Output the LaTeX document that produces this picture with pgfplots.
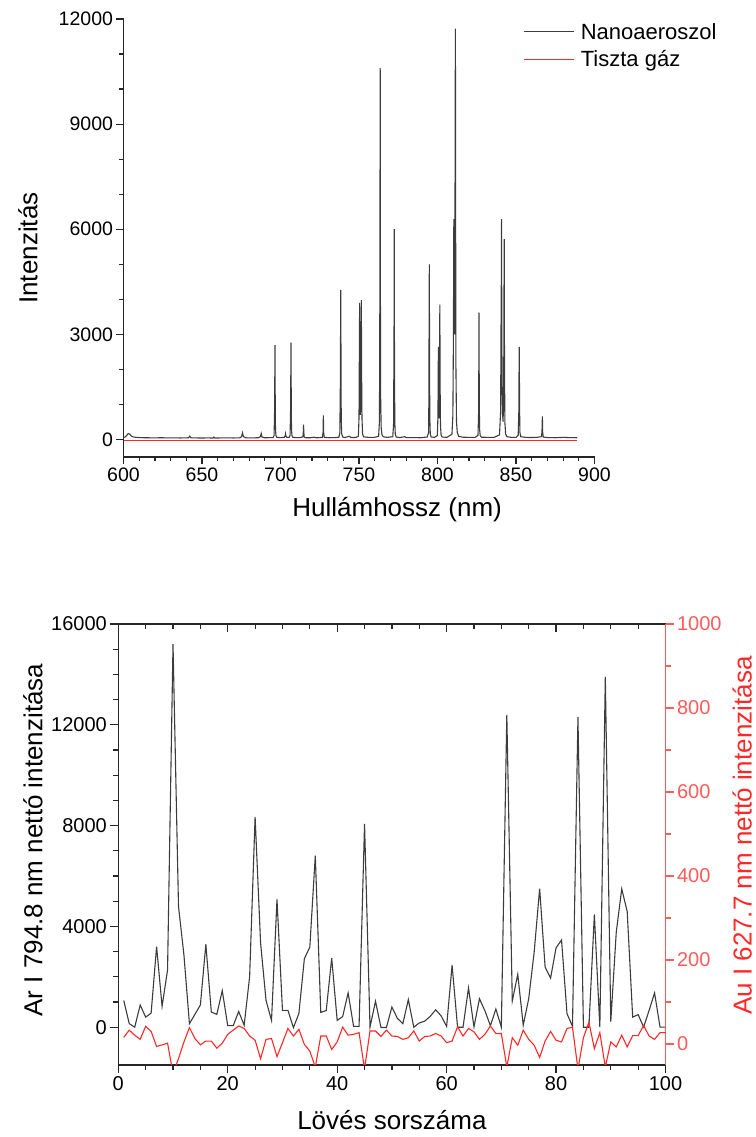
\documentclass[border=0pt]{standalone}
\usepackage{fontspec}
\setmainfont{Liberation Sans}
\usepackage{pgfplots}
\usepackage{pgfplotstable}
\pgfplotsset{compat=1.18}
\definecolor{spec}{RGB}{60,60,60}
\definecolor{redline}{RGB}{255,40,40}
\definecolor{redaxis}{RGB}{255,90,90}
\newcommand{\tlA}{\fontsize{19.5}{22}\selectfont}
\newcommand{\tlB}{\fontsize{20}{23}\selectfont}

\pgfplotstableread{
x y
600 60
601 70
602 110
603 170
604 150
605 100
606 75
608 60
610 55
613 50
616 48
620 45
624 50
628 44
632 47
636 43
640 45
641.5 50
642.2 95
643 48
646 44
650 42
654 45
657 40
657.6 70
658.2 42
662 44
666 46
670 43
674 47
675.2 80
675.8 190
676.4 80
678 48
682 45
686 50
687.2 80
687.7 170
688.2 70
690 48
693 52
695.3 55
695.9 110
696.2 700
696.37 1800
696.5 2690
696.63 1200
696.8 300
697.1 110
697.7 60
700 52
702.5 60
703.0 110
703.2 160
703.4 100
704 60
705.5 60
706.1 120
706.4 800
706.57 1900
706.7 2765
706.83 1300
707.0 300
707.3 110
707.9 60
710 52
713 55
714.3 80
714.6 250
714.7 420
714.85 200
715.1 70
716 50
719 48
721.6 65
723 47
726.7 60
727.1 200
727.3 686
727.5 200
727.9 60
731 50
735 55
737.2 65
737.8 200
738.1 1500
738.25 3000
738.4 4260
738.55 2000
738.7 500
739.0 160
739.6 70
741 55
743.9 90
745 55
748 55
749.6 90
750.0 600
750.2 2300
750.4 3900
750.6 1500
750.9 700
751.2 1800
751.35 3200
751.5 3975
751.65 2000
751.9 600
752.3 150
753 75
756 60
760 62
762.5 90
763.0 500
763.2 2500
763.35 6000
763.5 10600
763.65 4000
763.8 1200
764.1 350
764.6 140
765.5 75
768 60
771.5 80
772.0 400
772.2 2000
772.35 3500
772.45 6000
772.6 2200
772.8 500
773.1 150
773.7 70
776 55
779.2 80
780 55
785 52
789 50
793.5 70
794.3 200
794.5 1100
794.65 3400
794.8 5000
794.95 2000
795.1 600
795.4 160
796 70
798 60
799.9 110
800.3 700
800.45 2000
800.6 2640
800.75 1400
800.95 600
801.2 1300
801.35 2800
801.5 3850
801.65 1600
801.9 400
802.3 120
803 70
806 60
809.2 150
809.8 700
810.15 3000
810.3 5200
810.4 6290
810.55 4000
810.8 3000
811.05 4500
811.25 9000
811.4 11725
811.55 6500
811.75 2000
812.1 500
812.6 200
813.5 90
816 65
820 60
824 60
825.8 120
826.2 800
826.35 2500
826.45 3620
826.6 1200
826.8 300
827.2 110
828 65
832 60
836 60
839.5 130
840.2 800
840.5 3500
840.65 4500
840.8 6290
840.95 3000
841.3 800
841.8 500
842.2 2000
842.35 4000
842.5 5720
842.65 2500
842.9 500
843.4 150
844.2 80
847 60
850 60
851.4 120
851.8 800
851.95 2000
852.1 2640
852.25 1000
852.5 200
853 80
856 60
860 55
863 60
866.3 80
866.6 300
866.8 658
867.0 200
867.4 70
870 55
875 50
880 60
885 52
889 50
}\spectrum

\pgfplotstableread{
x y
600 -25
889 -25
}\clean

\pgfplotstableread{
n y
1 1060
2 140
3 0
4 880
5 400
6 560
7 3200
8 825
9 2270
10 15200
11 4800
12 2850
13 140
14 510
15 880
16 3290
17 600
18 510
19 1450
20 60
21 60
22 625
23 80
24 2000
25 8350
26 3350
27 1060
28 270
29 5070
30 670
31 670
32 -20
33 540
34 2715
35 3180
36 6810
37 590
38 660
39 2740
40 270
41 420
42 1360
43 30
44 30
45 8070
46 5
47 1030
48 -10
49 -10
50 800
51 350
52 140
53 1095
54 0
55 170
56 240
57 430
58 690
59 450
60 30
61 2460
62 0
63 0
64 1560
65 10
66 1130
67 650
68 60
69 720
70 0
71 12390
72 1040
73 2100
74 80
75 1130
76 2980
77 5500
78 2380
79 1950
80 3150
81 3460
82 534
83 35
84 12300
85 0
86 0
87 4474
88 0
89 13900
90 220
91 3770
92 5490
93 4590
94 400
95 500
96 5
97 666
98 1360
99 5
100 5
}\arline

\pgfplotstableread{
n y
1 16
2 33
3 21
4 11
5 42
6 30
7 -6
8 -2
9 2
10 -70
11 -35
12 5
13 39
14 13
15 -2
16 7
17 7
18 -10
19 2
20 23
21 33
22 43
23 37
24 19
25 9
26 -35
27 11
28 13
29 -30
30 3
31 37
32 19
33 35
34 -1
35 -17
36 -55
37 19
38 19
39 -13
40 5
41 40
42 21
43 23
44 27
45 -60
46 31
47 31
48 18
49 33
50 19
51 18
52 11
53 15
54 31
55 7
56 18
57 19
58 25
59 19
60 3
61 7
62 41
63 19
64 37
65 29
66 11
67 23
68 43
69 25
70 25
71 -55
72 15
73 -3
74 33
75 11
76 -3
77 -32
78 7
79 30
80 9
81 5
82 37
83 40
84 -60
85 15
86 52
87 -11
88 27
89 -55
90 5
91 -7
92 21
93 -7
94 20
95 20
96 44
97 19
98 11
99 27
100 27
}\auline

\pgfplotsset{
  common/.style={
    scale only axis,
    scaled ticks=false,
    /pgf/number format/assume math mode=true,
    /pgf/number format/set thousands separator={},
    axis line style={-, line width=1.3pt, black!85},
    every tick/.style={black!85, line width=1.2pt},
    label style={font=\fontsize{26}{30}\selectfont},
  }
}

\begin{document}
\begin{tikzpicture}
\path[use as bounding box] (0pt,0pt) rectangle (755pt,1137pt);

% ---------- top panel ----------
\begin{axis}[common,
  at={(123.5pt,680pt)}, anchor=south west,
  width=471pt, height=438pt,
  xmin=600, xmax=900, ymin=-500, ymax=12000,
  axis x line*=bottom, axis y line*=left,
  tick align=outside,
  xtick={600,650,...,900}, minor x tick num=4,
  ytick={0,3000,...,12000}, minor y tick num=2,
  major tick length=7pt, minor tick length=4pt,
  xticklabel={\hbox{\tlA\pgfmathprintnumber{\tick}}},
  yticklabel={\hbox{\tlA\pgfmathprintnumber{\tick}}},
  xlabel={Hullámhossz (nm)}, ylabel={Intenzitás},
  xlabel style={at={(axis description cs:0.581,-0.121)}, anchor=center},
  ylabel style={at={(axis description cs:-0.203,0.477)}, anchor=center},
  legend style={draw=none, fill=none, at={(axis description cs:0.843,1.0)}, anchor=north west,
    font=\fontsize{22}{26}\selectfont, row sep=6pt,
    /tikz/every odd column/.append style={column sep=4pt}},
  legend cell align=left,
]
\addplot[color=spec, line width=1.1pt,
  legend image code/.code={\draw[draw=spec, line width=1.1pt] (0pt,0pt) -- (50pt,0pt);}]
  table[x=x,y=y] {\spectrum};
\addlegendentry{Nanoaeroszol}
\addplot[color=redline, line width=1.1pt,
  legend image code/.code={\draw[draw=redline, line width=1.1pt] (0pt,0pt) -- (50pt,0pt);}]
  table[x=x,y=y] {\clean};
\addlegendentry{Tiszta gáz}
\end{axis}

% ---------- bottom panel: left axis ----------
\begin{axis}[common,
  at={(118.3pt,72pt)}, anchor=south west,
  width=547.2pt, height=441pt,
  xmin=0, xmax=100, ymin=-1500, ymax=16000,
  axis x line*=bottom, axis y line*=left,
  tick align=outside,
  xtick={0,20,...,100}, minor x tick num=3,
  ytick={0,4000,...,16000}, minor y tick num=3,
  major tick length=8pt, minor tick length=5pt,
  xticklabel={\hbox{\tlB\pgfmathprintnumber{\tick}}},
  yticklabel={\hbox{\tlB\pgfmathprintnumber{\tick}}},
  xlabel={Lövés sorszáma}, ylabel={Ar I 794.8 nm nettó intenzitása},
  xlabel style={at={(axis description cs:0.5,-0.125)}, anchor=center},
  ylabel style={at={(axis description cs:-0.156,0.51)}, anchor=center},
]
\addplot[color=spec, line width=1.1pt] table[x=n,y=y] {\arline};
\end{axis}

% ---------- bottom panel: top axis ----------
\begin{axis}[common,
  at={(118.3pt,72pt)}, anchor=south west,
  width=547.2pt, height=441pt,
  xmin=0, xmax=100, ymin=-1500, ymax=16000,
  axis x line*=top, axis y line=none,
  tick align=inside,
  xtick={0,20,...,100}, minor x tick num=3,
  xticklabels={},
  major tick length=8pt, minor tick length=5pt,
]
\addplot[draw=none] coordinates {(0,0)};
\end{axis}

% ---------- bottom panel: right axis ----------
\begin{axis}[common,
  at={(118.3pt,72pt)}, anchor=south west,
  width=547.2pt, height=441pt,
  xmin=0, xmax=100, ymin=-50, ymax=1000,
  axis x line=none, axis y line*=right,
  axis line style={-, line width=1.3pt, redaxis},
  every tick/.style={redaxis, line width=1.2pt},
  tick align=outside,
  ytick={0,200,...,1000}, minor y tick num=1,
  major tick length=8pt, minor tick length=5pt,
  yticklabel={\hbox{\tlB\color{redaxis}\pgfmathprintnumber{\tick}}},
  ylabel={Au I 627.7 nm nettó intenzitása},
  ylabel style={at={(axis description cs:1.14,0.52)}, anchor=center, text=redline},
]
\addplot[color=redline, line width=1.1pt] table[x=n,y=y] {\auline};
\end{axis}
\end{tikzpicture}
\end{document}
